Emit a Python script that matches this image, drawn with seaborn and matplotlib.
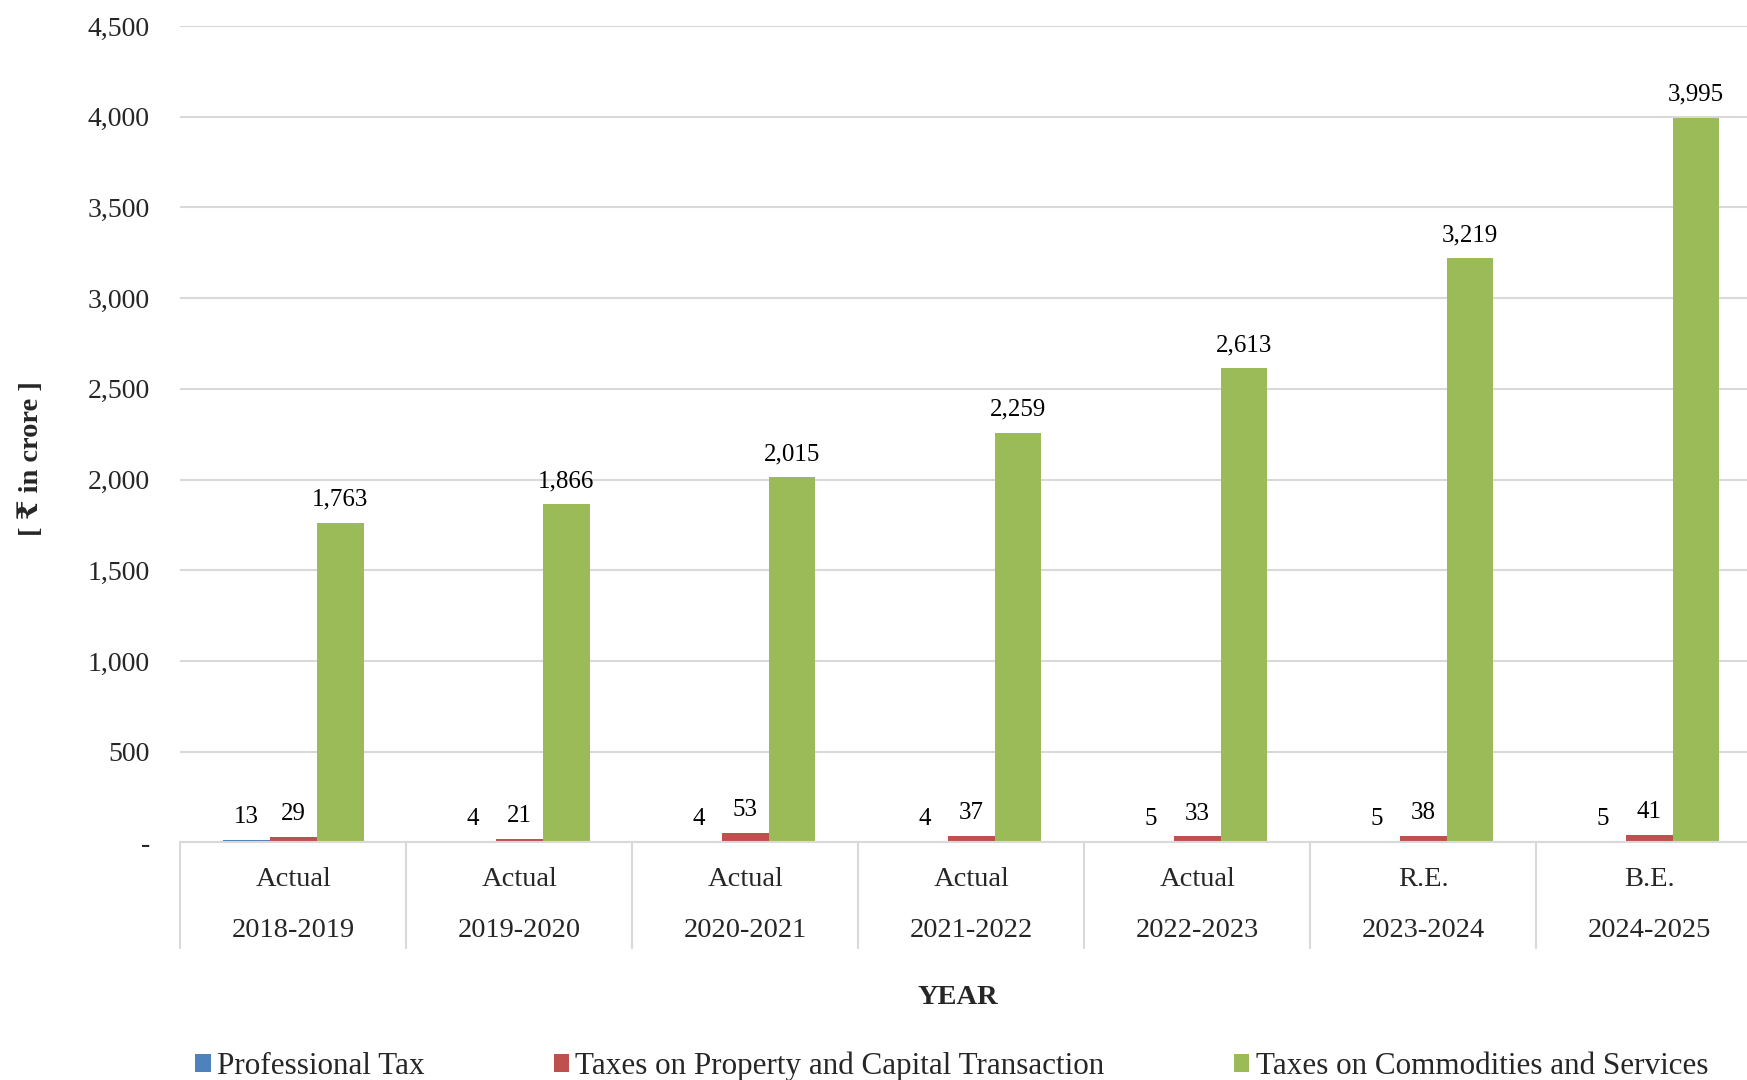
import matplotlib
matplotlib.use("Agg")
import matplotlib.pyplot as plt
import matplotlib.transforms as mtransforms
import seaborn as sns
import pandas as pd

stages = ["Actual", "Actual", "Actual", "Actual", "Actual", "R.E.", "B.E."]
years = ["2018-2019", "2019-2020", "2020-2021", "2021-2022", "2022-2023", "2023-2024", "2024-2025"]
series_names = ["Professional Tax", "Taxes on Property and Capital Transaction", "Taxes on Commodities and Services"]
professional_tax = [13, 4, 4, 4, 5, 5, 5]
property_tax = [29, 21, 53, 37, 33, 38, 41]
commodities_tax = [1763, 1866, 2015, 2259, 2613, 3219, 3995]
colors = ["#4F81BD", "#C0504D", "#9BBB59"]
yticks = [0, 500, 1000, 1500, 2000, 2500, 3000, 3500, 4000, 4500]

sns.set_style("white")
plt.rcParams["font.family"] = ["Liberation Serif", "DejaVu Serif"]

cats = [f"{s}\n{y}" for s, y in zip(stages, years)]
rows = []
for name, vals in zip(series_names, [professional_tax, property_tax, commodities_tax]):
    for c, v in zip(cats, vals):
        rows.append({"period": c, "series": name, "value": v})
df = pd.DataFrame(rows)

fig = plt.figure(figsize=(17.47, 10.80), dpi=100)
ax = fig.add_axes([0.1033, 0.220, 0.9055, 0.756])

sns.barplot(data=df, x="period", y="value", hue="series", order=cats,
            hue_order=series_names, palette=colors, width=0.62,
            saturation=1, ax=ax, errorbar=None, linewidth=0)

for cont in ax.containers:
    ax.bar_label(cont, labels=[f"{v:,.0f}" for v in cont.datavalues],
                 padding=8.5, fontsize=18, color="#000000")

ax.set_ylim(0, 4500)
ax.set_xlim(-0.5, len(cats) - 0.5)
ax.set_yticks(yticks)
ax.set_yticklabels(["-" if t == 0 else f"{t:,}" for t in yticks], fontsize=20)
ax.tick_params(axis="y", length=0, pad=22)
ax.tick_params(axis="x", length=0, pad=18, labelsize=20.5)
for lab in ax.get_xticklabels():
    lab.set_linespacing(2.35)
ax.yaxis.grid(True, color="#d9d9d9", linewidth=1.5)
ax.set_axisbelow(True)
for s in ["left", "right", "top"]:
    ax.spines[s].set_visible(False)
ax.spines["bottom"].set_color("#d9d9d9")
ax.spines["bottom"].set_linewidth(1.5)
ax.set_xlabel("")
ax.set_ylabel("")

trans = mtransforms.blended_transform_factory(ax.transData, ax.transAxes)
for i in range(len(cats) + 1):
    ax.plot([i - 0.5, i - 0.5], [0, -0.129], transform=trans, color="#d9d9d9",
            lw=1.5, clip_on=False)

fig.text(0.548, 0.076, "YEAR", ha="center", va="center", fontsize=20.5, fontweight="bold")
fig.text(0.018, 0.575, "[ ₹ in crore ]", ha="center", va="center", rotation=90,
         fontsize=20.5, fontweight="bold")

handles, labels = ax.get_legend_handles_labels()
if ax.get_legend() is not None:
    ax.get_legend().remove()
fig.legend(handles, labels, loc="center", bbox_to_anchor=(0.5447, 0.013), ncol=3,
           frameon=False, fontsize=22.4, handlelength=0.5, handleheight=0.5,
           handletextpad=0.2, columnspacing=4.15, borderaxespad=0)

fig.savefig("out.png", dpi=100)
